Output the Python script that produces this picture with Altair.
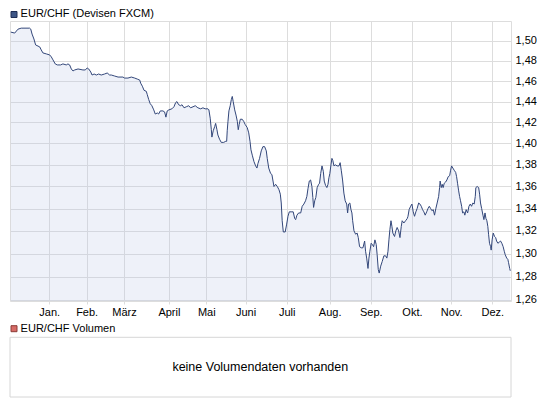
import altair as alt
import pandas as pd

series_name = "EUR/CHF (Devisen FXCM)"
volume_name = "EUR/CHF Volumen"
volume_note = "keine Volumendaten vorhanden"

# trading-day index (0 = first day shown) and EUR/CHF close
days_q1 = [0.4, 2.5, 4.3, 6.0, 10.5, 11.1, 11.8, 12.8, 13.7, 15.9,
           16.7, 17.6, 19.4, 21.2, 22.1, 23.0, 24.2, 25.3, 27.1, 28.3,
           30.1, 31.0, 31.9, 32.8, 33.7, 34.6, 36.4, 39.0, 40.3, 41.3,
           42.1, 43.2, 43.9, 45.0, 46.2, 47.4, 48.8, 50.6, 52.0, 53.3,
           54.2, 56.0, 57.8, 60.4]
rates_q1 = [1.509, 1.508, 1.512, 1.513, 1.513, 1.512, 1.507, 1.502, 1.496, 1.494,
            1.491, 1.488, 1.487, 1.486, 1.484, 1.481, 1.477, 1.476, 1.476, 1.477,
            1.476, 1.477, 1.476, 1.472, 1.470, 1.471, 1.472, 1.471, 1.471, 1.473,
            1.472, 1.469, 1.466, 1.467, 1.466, 1.467, 1.466, 1.467, 1.468, 1.466,
            1.466, 1.465, 1.464, 1.464]

days_q2 = [61.3, 63.1, 64.9, 66.7, 68.1, 69.4, 69.9, 70.8, 71.7, 72.9,
           73.4, 74.2, 75.0, 75.9, 76.9, 77.7, 78.8, 79.5, 80.4, 81.8,
           82.7, 83.4, 84.1, 85.0, 86.6, 87.7, 88.6, 89.3, 90.2, 91.3,
           92.0, 93.1, 94.3, 95.6, 96.6, 97.9, 99.1, 100.5, 102.0, 103.2,
           104.4, 105.9, 106.4, 107.1, 107.7, 108.0, 108.7, 109.5, 110.0, 110.7,
           111.2, 112.1, 113.0, 114.3, 115.4, 115.9, 116.2, 116.6, 117.1, 117.8,
           118.4, 118.9, 119.4, 120.2, 120.9, 121.6, 122.1, 122.6, 123.2, 124.2,
           125.0]
rates_q2 = [1.463, 1.463, 1.464, 1.463, 1.462, 1.461, 1.458, 1.455, 1.451, 1.450,
            1.447, 1.442, 1.438, 1.436, 1.432, 1.428, 1.429, 1.428, 1.431, 1.431,
            1.430, 1.425, 1.431, 1.432, 1.433, 1.435, 1.439, 1.440, 1.437, 1.436,
            1.437, 1.434, 1.435, 1.436, 1.434, 1.435, 1.436, 1.434, 1.433, 1.434,
            1.433, 1.433, 1.432, 1.424, 1.413, 1.406, 1.412, 1.416, 1.419, 1.413,
            1.408, 1.404, 1.401, 1.401, 1.402, 1.402, 1.412, 1.421, 1.431, 1.436,
            1.442, 1.445, 1.440, 1.432, 1.427, 1.421, 1.413, 1.418, 1.423, 1.423,
            1.421]

days_q3 = [125.8, 126.9, 127.7, 128.4, 128.9, 129.6, 130.5, 131.4, 132.1, 132.6,
           133.5, 134.4, 135.3, 136.2, 137.1, 137.6, 138.4, 139.4, 140.1, 140.7,
           141.2, 142.1, 143.0, 143.9, 144.6, 145.1, 145.6, 146.2, 147.2, 148.0,
           148.7, 149.4, 150.4, 151.5, 152.3, 152.8, 153.5, 154.4, 155.5, 156.3,
           157.2, 158.1, 158.8, 159.4, 160.1, 160.8, 161.5, 162.0, 162.4, 163.0,
           163.6, 164.3, 165.1, 165.6, 166.2, 166.9, 167.6, 168.1, 168.8, 169.5,
           170.1, 170.6, 171.1, 171.7, 172.2, 172.7, 173.3, 174.0, 175.0, 176.0,
           176.6, 177.2, 177.9, 178.6, 179.3, 180.1, 180.6, 181.1, 181.8, 182.4,
           182.9, 183.3, 184.0, 184.9, 185.7, 186.3, 187.0, 187.9, 188.8, 189.7,
           190.2, 190.8, 191.5, 192.0]
rates_q3 = [1.418, 1.415, 1.410, 1.402, 1.394, 1.389, 1.383, 1.379, 1.377, 1.381,
            1.386, 1.393, 1.397, 1.397, 1.393, 1.386, 1.377, 1.372, 1.371, 1.365,
            1.360, 1.362, 1.360, 1.357, 1.353, 1.345, 1.329, 1.319, 1.319, 1.326,
            1.333, 1.337, 1.337, 1.337, 1.331, 1.330, 1.334, 1.336, 1.336, 1.342,
            1.344, 1.347, 1.351, 1.358, 1.365, 1.366, 1.360, 1.350, 1.341, 1.347,
            1.350, 1.359, 1.362, 1.363, 1.372, 1.379, 1.374, 1.365, 1.361, 1.359,
            1.362, 1.368, 1.372, 1.380, 1.386, 1.384, 1.379, 1.380, 1.379, 1.379,
            1.382, 1.375, 1.366, 1.354, 1.347, 1.344, 1.336, 1.344, 1.345, 1.339,
            1.336, 1.329, 1.320, 1.317, 1.318, 1.314, 1.306, 1.305, 1.305, 1.311,
            1.302, 1.296, 1.287, 1.296]

days_q4 = [192.5, 193.2, 193.8, 194.5, 195.2, 195.9, 196.4, 197.0, 197.5, 198.3,
           199.1, 200.0, 200.9, 201.6, 202.2, 202.7, 203.2, 203.8, 204.3, 204.8,
           205.7, 206.4, 207.1, 207.9, 208.6, 209.3, 209.8, 210.7, 211.6, 212.5,
           212.9, 213.5, 214.3, 215.0, 215.7, 216.4, 217.1, 217.8, 218.6, 219.3,
           220.0, 220.7, 221.4, 222.1, 222.9, 223.6, 224.3, 225.0, 225.7, 226.4,
           227.1, 227.8, 228.5, 229.3, 229.8, 230.1, 230.7, 231.2, 231.7, 232.3,
           233.0, 233.7, 234.4, 235.2, 235.7, 236.2, 236.9, 237.6, 238.4, 238.9,
           239.4, 240.0, 240.5, 241.0, 241.6, 242.1, 242.8, 243.3, 244.0, 244.8,
           245.5, 246.2, 246.9, 247.6, 248.3, 248.9, 249.2, 249.9, 250.7, 251.2,
           251.7, 252.3, 253.0, 253.5, 254.1, 254.6, 255.1, 255.6, 256.0, 256.5,
           257.1, 257.4, 257.9, 258.5, 259.2, 259.8, 260.3, 261.0, 261.7, 262.4,
           263.1, 263.8, 264.4, 264.9, 265.7, 266.3, 266.7, 267.3, 267.6]
rates_q4 = [1.302, 1.309, 1.308, 1.306, 1.312, 1.308, 1.299, 1.286, 1.283, 1.289,
            1.293, 1.298, 1.298, 1.296, 1.302, 1.312, 1.321, 1.329, 1.324, 1.318,
            1.315, 1.320, 1.323, 1.320, 1.314, 1.324, 1.329, 1.327, 1.329, 1.331,
            1.333, 1.339, 1.342, 1.344, 1.337, 1.333, 1.337, 1.340, 1.345, 1.344,
            1.342, 1.339, 1.337, 1.334, 1.337, 1.340, 1.342, 1.340, 1.338, 1.339,
            1.334, 1.340, 1.345, 1.351, 1.359, 1.365, 1.359, 1.362, 1.359, 1.363,
            1.364, 1.366, 1.369, 1.370, 1.375, 1.379, 1.377, 1.375, 1.373, 1.369,
            1.363, 1.356, 1.351, 1.347, 1.342, 1.336, 1.337, 1.334, 1.339, 1.336,
            1.342, 1.344, 1.342, 1.345, 1.344, 1.351, 1.359, 1.360, 1.359, 1.353,
            1.345, 1.340, 1.334, 1.330, 1.336, 1.331, 1.329, 1.324, 1.317, 1.309,
            1.306, 1.303, 1.312, 1.318, 1.315, 1.314, 1.311, 1.309, 1.310, 1.311,
            1.309, 1.306, 1.302, 1.299, 1.296, 1.295, 1.292, 1.287, 1.285]

month_ticks = [21, 41, 61, 85, 105, 126, 148, 171, 193, 215, 236, 258]
month_labels = ["Jan.", "Feb.", "März", "April", "Mai", "Juni",
                "Juli", "Aug.", "Sep.", "Okt.", "Nov.", "Dez."]
rate_ticks = [1.26, 1.28, 1.30, 1.32, 1.34, 1.36, 1.38, 1.40, 1.42, 1.44, 1.46, 1.48, 1.50]
rate_domain = [1.2591, 1.5203]
day_domain = [0, 268]

days = days_q1 + days_q2 + days_q3 + days_q4
rates = rates_q1 + rates_q2 + rates_q3 + rates_q4
assert len(days) == len(rates)

FONT = "Liberation Sans"
GRID = "#dddddd"
FRAME = "#cdcdcd"
LINE = "#33477a"
W, H = 501, 280

df = pd.DataFrame({"day": days, "rate": rates})

labels_js = "[" + ",".join("'" + m + "'" for m in month_labels) + "]"
ticks_js = "[" + ",".join(str(t) for t in month_ticks) + "]"
x_label_expr = labels_js + "[indexof(" + ticks_js + ", datum.value)]"
y_label_expr = "replace(format(datum.value, '.2f'), '.', ',')"

x_axis = alt.Axis(values=month_ticks, labelExpr=x_label_expr, grid=True, gridColor=GRID,
                  ticks=True, tickColor=GRID, tickSize=3, domain=False, labelPadding=2,
                  labelFontSize=11, labelColor="#000000", labelFont=FONT, title=None,
                  labelOverlap=False, labelFlush=False)
y_axis = alt.Axis(orient="right", values=rate_ticks, labelExpr=y_label_expr, grid=True,
                  gridColor=GRID, ticks=False, domain=False, labelPadding=4,
                  labelFontSize=11, labelColor="#000000", labelFont=FONT, title=None,
                  labelOverlap=False)

x = alt.X("day:Q", scale=alt.Scale(domain=day_domain, nice=False, zero=False), axis=x_axis)
y = alt.Y("rate:Q", scale=alt.Scale(type="log", domain=rate_domain, nice=False), axis=y_axis)

area = alt.Chart(df).mark_area(color="#bbc7e7", fillOpacity=0.25).encode(
    x=x, y=y, y2=alt.Y2(datum=rate_domain[0]))
line = alt.Chart(df).mark_line(color=LINE, strokeWidth=1).encode(x=x, y=y)

top_df = pd.DataFrame({"label": [series_name]})
bot_df = pd.DataFrame({"label": [volume_name], "note": [volume_note]})

sq_top = alt.Chart(top_df).mark_square(size=36, fill="#3e5686", stroke="#1e2d55",
                                       strokeWidth=1, opacity=1).encode(
    x=alt.value(4), y=alt.value(-6.5))
txt_top = alt.Chart(top_df).mark_text(align="left", baseline="alphabetic", fontSize=11,
                                      font=FONT, color="#000000").encode(
    x=alt.value(10.6), y=alt.value(-4), text="label:N")

sq_bot = alt.Chart(bot_df).mark_square(size=36, fill="#d66b66", stroke="#8c3a36",
                                       strokeWidth=1, opacity=1).encode(
    x=alt.value(4), y=alt.value(307.7))
txt_bot = alt.Chart(bot_df).mark_text(align="left", baseline="alphabetic", fontSize=11,
                                      font=FONT, color="#000000").encode(
    x=alt.value(10.6), y=alt.value(311.3), text="label:N")
box = alt.Chart(bot_df).mark_rect(fill="#ffffff", stroke="#d6d6d6", strokeWidth=1).encode(
    x=alt.value(0), x2=alt.value(W), y=alt.value(316.3), y2=alt.value(376))
note = alt.Chart(bot_df).mark_text(align="center", baseline="alphabetic", fontSize=12.5,
                                   font=FONT, color="#000000").encode(
    x=alt.value(250.3), y=alt.value(350.3), text="note:N")

chart = alt.layer(area, line, sq_top, txt_top, sq_bot, txt_bot, box, note).properties(
    width=W, height=H,
    padding={"left": 0, "top": 0, "right": 0, "bottom": 0},
    background="#ffffff",
).configure_view(stroke=FRAME, strokeWidth=1).configure(font=FONT)

chart.save("out.html", embed_options={"renderer": "svg", "actions": False})
